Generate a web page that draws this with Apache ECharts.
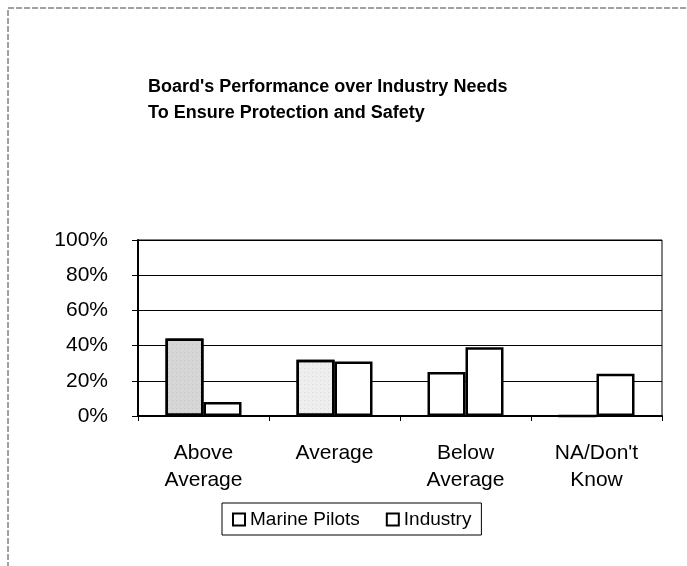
<!DOCTYPE html>
<html>
<head>
<meta charset="utf-8">
<script src="https://cdn.jsdelivr.net/npm/echarts@6/dist/echarts.min.js"></script>
<style>
  html, body { margin: 0; padding: 0; background: #fff; }
  #chart { width: 687px; height: 566px; }
</style>
</head>
<body>
<div id="chart"></div>
<script>
// categories and values (percent)
const categories = ['Above\nAverage', 'Average', 'Below\nAverage', "NA/Don't\nKnow"];
const marinePilots = [44, 32, 25, 0];
const industry = [8, 31, 39, 24];
const yTicks = [0, 20, 40, 60, 80, 100];

// scanned stipple fill on the first two pilot bars
const marineFill = ['#d6d6d6', '#eeeeee', '#ffffff', '#ffffff'];

const chart = echarts.init(document.getElementById('chart'));

const stipple = {
  symbol: 'rect', symbolSize: 0.6,
  color: 'rgba(90,90,90,0.45)',
  dashArrayX: [1, 3], dashArrayY: [1, 3], rotation: 0
};

const option = {
  animation: false,
  backgroundColor: '#fff',
  textStyle: { fontFamily: 'Liberation Sans, Arial, sans-serif', color: '#000' },
  title: {
    text: "Board's Performance over Industry Needs\nTo Ensure Protection and Safety",
    left: 143,
    top: 69,
    textStyle: { fontSize: 18, fontWeight: 'bold', lineHeight: 26, color: '#000' }
  },
  graphic: [{
    type: 'rect',
    shape: { x: 8, y: 8, width: 700, height: 600 },
    style: { fill: 'none', stroke: '#444', lineWidth: 1, lineDash: [6, 2] },
    silent: true
  }],
  legend: {
    data: ['Marine Pilots', 'Industry'],
    left: 222,
    top: 503,
    itemWidth: 12,
    itemHeight: 12,
    itemGap: 26,
    padding: [7, 10, 6, 10],
    borderColor: '#000',
    borderWidth: 1,
    icon: 'rect',
    textStyle: { fontSize: 19, color: '#000' },
    itemStyle: { color: '#fff', borderColor: '#000', borderWidth: 2, decal: null }
  },
  grid: { left: 138, right: 25, top: 240, bottom: 150, show: true, borderColor: '#000', borderWidth: 1 },
  xAxis: {
    type: 'category',
    data: categories,
    axisLine: { lineStyle: { color: '#000', width: 2 } },
    axisTick: { show: true, length: 5, lineStyle: { color: '#000' } },
    axisLabel: { color: '#000', fontSize: 21, lineHeight: 27, margin: 24 }
  },
  yAxis: {
    type: 'value',
    min: yTicks[0],
    max: yTicks[yTicks.length - 1],
    interval: 20,
    axisLine: { show: true, lineStyle: { color: '#000', width: 2 } },
    axisTick: { show: true, length: 6, lineStyle: { color: '#000' } },
    axisLabel: { color: '#000', fontSize: 21, margin: 30, formatter: '{value}%' },
    splitLine: { show: true, lineStyle: { color: '#000', width: 1 } }
  },
  series: [
    {
      name: 'Marine Pilots',
      type: 'bar',
      barWidth: 38,
      barGap: '0%',
      data: marinePilots.map((v, i) => {
        const style = { color: marineFill[i] };
        if (i < 2) style.decal = stipple;
        return { value: v, itemStyle: style };
      }),
      itemStyle: { color: '#fff', borderColor: '#000', borderWidth: 2.5 }
    },
    {
      name: 'Industry',
      type: 'bar',
      barWidth: 38,
      data: industry,
      itemStyle: { color: '#fff', borderColor: '#000', borderWidth: 2.5 }
    }
  ]
};

chart.setOption(option);
</script>
</body>
</html>
